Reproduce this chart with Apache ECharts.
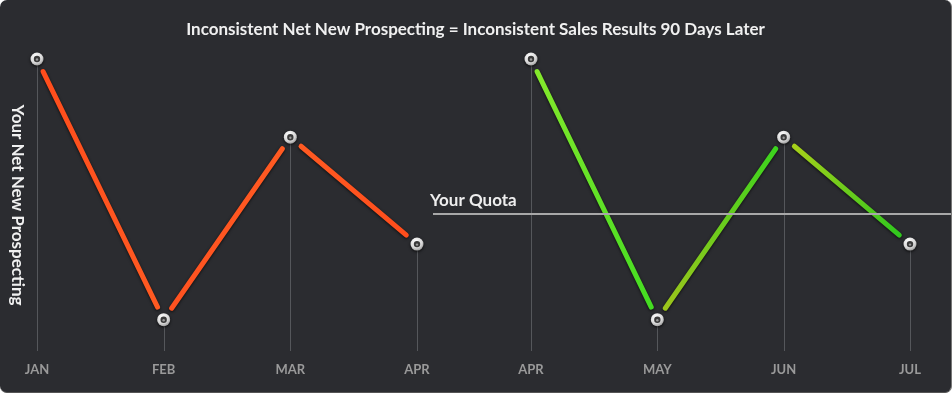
<!DOCTYPE html>
<html><head><meta charset="utf-8">
<script src="https://cdn.jsdelivr.net/npm/echarts@6/dist/echarts.min.js"></script>
<style>
html,body{margin:0;padding:0;background:#ffffff;}
#c{width:952px;height:393px;background:#2b2c30;border-radius:7px;overflow:hidden;box-sizing:border-box;border-right:1px solid #777;border-bottom:1px solid #555;}
</style></head>
<body><div id="c"></div>
<script>
const titleText = 'Inconsistent Net New Prospecting = Inconsistent Sales Results 90 Days Later';
const yName = 'Your Net New Prospecting';
const leftMonths = ['JAN','FEB','MAR','APR'];
const rightMonths = ['APR','MAY','JUN','JUL'];
const prospecting = [100, 0, 70, 29];
const sales = [100, 0, 70, 29];
const quota = 40.5;
const quotaLabel = 'Your Quota';
const yMin = -12, yMax = 100;
const leftColors = [['#ff4d1c','#ff5a22'],['#ff5220','#ff5a22'],['#ff5a22','#ff4d1c']];
const rightColors = [['#84e82c','#44dd22'],['#9cc41c','#3cd41e'],['#a6d01a','#30c81e']];

const chart = echarts.init(document.getElementById('c'), null, {renderer:'canvas'});
const FONT = 'Lato, "Open Sans", sans-serif';

function segData(vals){ const d=[]; for(let i=0;i<vals.length-1;i++) d.push([i, vals[i], i+1, vals[i+1]]); return d; }
function segSeries(vals, colors, idx){
  return {
    type:'custom', xAxisIndex:idx, yAxisIndex:idx, z:3,
    data: segData(vals),
    renderItem(params, api){
      const p1 = api.coord([api.value(0), api.value(1)]);
      const p2 = api.coord([api.value(2), api.value(3)]);
      const dx=p2[0]-p1[0], dy=p2[1]-p1[1], L=Math.sqrt(dx*dx+dy*dy);
      const g=14, ux=dx/L, uy=dy/L;
      const a=[p1[0]+ux*g, p1[1]+uy*g], b=[p2[0]-ux*g, p2[1]-uy*g];
      const c = colors[params.dataIndex];
      return {type:'line', shape:{x1:a[0],y1:a[1],x2:b[0],y2:b[1]},
        style:{lineWidth:5, lineCap:'round',
          stroke:new echarts.graphic.LinearGradient(a[0],a[1],b[0],b[1],[{offset:0,color:c[0]},{offset:1,color:c[1]}],true),
          shadowBlur:3, shadowColor:'rgba(0,0,0,0.7)', shadowOffsetY:1}};
    }
  };
}
function dropSeries(vals, idx){
  return {
    type:'custom', xAxisIndex:idx, yAxisIndex:idx, z:1,
    data: vals.map((v,i)=>[i,v]),
    renderItem(params, api){
      const p = api.coord([api.value(0), api.value(1)]);
      const q = api.coord([api.value(0), yMin]);
      return {type:'line', shape:{x1:Math.round(p[0])+0.5,y1:p[1],x2:Math.round(p[0])+0.5,y2:q[1]}, style:{stroke:'#55575b', lineWidth:1}};
    }
  };
}
function markerSeries(vals, idx){
  return {
    type:'custom', xAxisIndex:idx, yAxisIndex:idx, z:5,
    data: vals.map((v,i)=>[i,v]),
    renderItem(params, api){
      const p = api.coord([api.value(0), api.value(1)]);
      return {type:'group', children:[
        {type:'circle', shape:{cx:p[0],cy:p[1],r:6.5}, style:{
          fill:new echarts.graphic.RadialGradient(0.4,0.3,0.8,[{offset:0,color:'#ffffff'},{offset:0.6,color:'#d8d8d8'},{offset:1,color:'#8a8a8a'}]),
          shadowBlur:3, shadowColor:'rgba(0,0,0,0.8)', shadowOffsetY:1}},
        {type:'circle', shape:{cx:p[0],cy:p[1],r:3.2}, style:{fill:'#3a3a3a'}},
        {type:'circle', shape:{cx:p[0],cy:p[1]+0.5,r:1.2}, style:{fill:'#9a9a9a'}}
      ]};
    }
  };
}
const xCommon = {type:'category', boundaryGap:false, axisLine:{show:false}, axisTick:{show:false}, splitLine:{show:false},
  axisLabel:{color:'#9a9a9a', fontSize:13, fontWeight:'bold', fontFamily:FONT, margin:12}};
const yCommon = {type:'value', min:yMin, max:yMax, axisLine:{show:false}, axisTick:{show:false}, splitLine:{show:false}, axisLabel:{show:false}};

const rightMain = segSeries(sales, rightColors, 1);
rightMain.markLine = {
  silent:true, symbol:'none', animation:false,
  lineStyle:{color:'#a8a8a8', width:2, type:'solid'},
  label:{show:true, position:'insideStartTop', formatter:quotaLabel, color:'#eeeeee', fontSize:17, fontWeight:'bold', fontFamily:FONT, distance:[-3,5]},
  data:[[{x:433, yAxis:quota}, {x:952, yAxis:quota}]]
};

chart.setOption({
  animation:false,
  title:{text:titleText, left:'center', top:16, textStyle:{color:'#f0f0f0', fontSize:17, fontWeight:'bold', fontFamily:FONT}},
  grid:[{left:37, right:534, top:59, bottom:41}, {left:531, right:41, top:59, bottom:41}],
  xAxis:[Object.assign({gridIndex:0, data:leftMonths}, xCommon), Object.assign({gridIndex:1, data:rightMonths}, xCommon)],
  yAxis:[Object.assign({gridIndex:0, name:yName, nameLocation:'middle', nameRotate:-90, nameGap:11,
    nameTextStyle:{color:'#f0f0f0', fontSize:17, fontWeight:'bold', fontFamily:FONT}}, yCommon),
    Object.assign({gridIndex:1}, yCommon)],
  series:[
    dropSeries(prospecting,0), segSeries(prospecting,leftColors,0), markerSeries(prospecting,0),
    dropSeries(sales,1), rightMain, markerSeries(sales,1)
  ]
});
</script></body></html>
